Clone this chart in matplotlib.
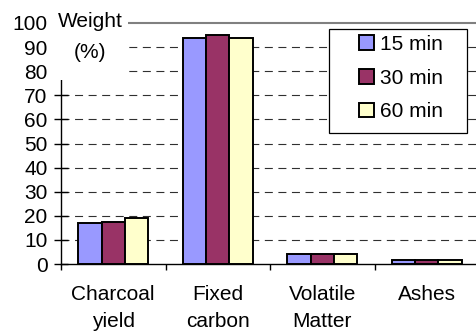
import matplotlib
matplotlib.use("Agg")
import matplotlib.pyplot as plt
from matplotlib.patches import Rectangle
import numpy as np

plt.rcParams['font.family'] = ['Liberation Sans', 'DejaVu Sans']

categories = ["Charcoal\nyield", "Fixed\ncarbon", "Volatile\nMatter", "Ashes"]
series_names = ["15 min", "30 min", "60 min"]
values_15 = [16.9, 93.9, 4.3, 1.7]
values_30 = [17.6, 94.9, 4.2, 1.6]
values_60 = [19.2, 93.8, 4.3, 1.7]
colors = ["#9999FF", "#993366", "#FFFFCC"]
yticks = list(range(0, 101, 10))

W, H = 476, 331
fig = plt.figure(figsize=(W / 100, H / 100), dpi=100)
# axes: x from 61px to 479px (right side clipped), y=0 at 264px, y=100 at 23px
ax = fig.add_axes([61 / W, (H - 264) / H, 418 / W, 241 / H])

x = np.arange(len(categories))
bw = 0.223
for i, (vals, c, name) in enumerate(zip([values_15, values_30, values_60], colors, series_names)):
    ax.bar(x + (i - 1) * bw, vals, bw, color=c, edgecolor="black", linewidth=1.4,
           label=name, zorder=3)

ax.set_xlim(-0.5, 3.5)
ax.set_ylim(0, 100)

# dashed gridlines, solid grey top line
for v in yticks[1:-1]:
    ax.axhline(v, color="#303030", lw=0.8, linestyle=(0, (7.2, 5)), zorder=1)
ax.axhline(100, color="#808080", lw=1.5, zorder=1, clip_on=False)

for s in ["top", "right"]:
    ax.spines[s].set_visible(False)
ax.spines["left"].set_linewidth(1.0)
ax.spines["bottom"].set_linewidth(1.0)
ax.spines["left"].set_zorder(2)

ax.set_yticks(yticks)
ax.set_yticklabels([str(v) for v in yticks])
ax.tick_params(axis="y", direction="inout", length=9.4, width=1.0, pad=5, labelsize=15)

ax.set_xticks(np.arange(-0.5, 3.6, 1.0))
ax.set_xticklabels([])
ax.tick_params(axis="x", which="major", direction="out", length=4.3, width=1.0)
ax.set_xticks(x, minor=True)
ax.set_xticklabels(categories, minor=True, fontsize=15, linespacing=1.55)
ax.tick_params(axis="x", which="minor", length=0, pad=15)

# white box behind the axis title, covering top of y axis
fig.patches.append(Rectangle((50 / W, 1 - 80 / H), 78 / W, 80 / H, transform=fig.transFigure,
                             facecolor="white", edgecolor="none", zorder=5))
fig.text(90 / W, 1 - 12 / H, "Weight\n(%)", ha="center", va="top", fontsize=15,
         linespacing=1.8, zorder=6)

# legend
fig.patches.append(Rectangle((329 / W, 1 - 133 / H), 138 / W, 104 / H, transform=fig.transFigure,
                             facecolor="white", edgecolor="black", linewidth=0.9, zorder=5))
leg = fig.legend(loc="upper left", bbox_to_anchor=(359 / W, 1 - 35 / H), frameon=False,
                 fontsize=15, handlelength=0.7, handleheight=0.7, handletextpad=0.3,
                 labelspacing=0.7, borderpad=0, borderaxespad=0)
leg.set_zorder(6)

fig.savefig("out.png", dpi=100)
